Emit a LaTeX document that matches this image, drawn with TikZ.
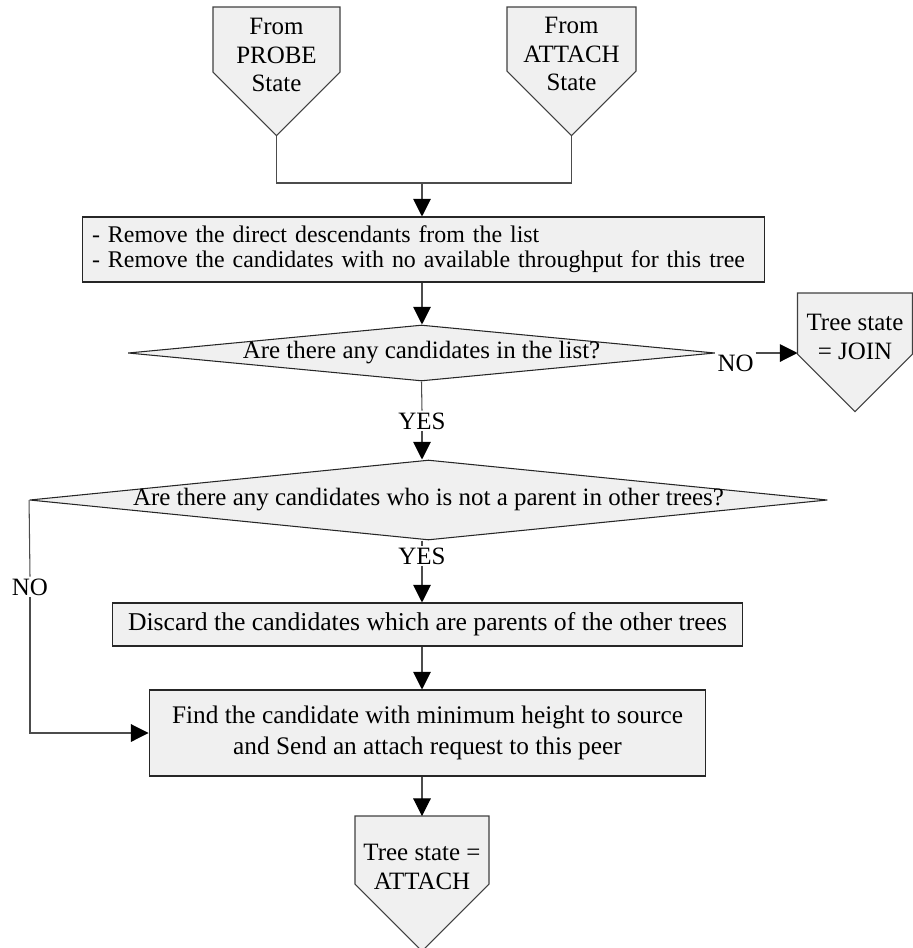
\documentclass[tikz,border=0pt]{standalone}
\usepackage{fontspec}
\setmainfont{Liberation Serif}
\usepackage{tikz}
\usetikzlibrary{shapes.geometric,arrows.meta,positioning,calc}
\definecolor{boxgray}{RGB}{240,240,240}

% off-page connector: name, centre x, top, half width, side height, text
\newcommand{\offpage}[6]{%
  \filldraw[pagebox] (#2-#4,#3) -- (#2+#4,#3) -- (#2+#4,#3+#5)
    -- (#2,#3+#5+#4) -- (#2-#4,#3+#5) -- cycle;
  \node[pagetext] (#1) at (#2,#3+#5-17) {#6};
  \coordinate (#1-top) at (#2,#3);
  \coordinate (#1-tip) at (#2,#3+#5+#4);
  \coordinate (#1-sw) at (#2-#4,#3+#5);
}

\begin{document}
\begin{tikzpicture}[x=0.02cm, y=-0.02cm,
    every node/.style={font=\fontsize{14.2}{14.2}\selectfont},
    box/.style={draw=black!85, fill=boxgray, line width=0.6pt, inner sep=0pt},
    decision/.style={diamond, draw=black!85, fill=boxgray, line width=0.6pt,
                     inner xsep=-20pt, inner ysep=-4pt},
    pagebox/.style={draw=black!75, fill=boxgray, line width=0.6pt},
    pagetext/.style={align=center, font=\fontsize{14.2}{16.4}\selectfont},
    link/.style={draw=black!70, line width=0.6pt},
    flow/.style={link, -{Triangle[width=10pt,length=10pt,black]}},
    answer/.style={inner sep=1pt}]
    \useasboundingbox (0,0) rectangle (913,948);

    % entry states
    \offpage{probe}{276.5}{7}{63.5}{65}{From\\PROBE\\State}
    \offpage{attach0}{571.5}{7}{64.5}{64}{From\\ATTACH\\State}
    \coordinate (merge) at (422,183);

    % list cleanup
    \node[box, minimum width=13.66cm, minimum height=1.3cm, align=left, text width=13.26cm,
          font=\fontsize{13.6}{14.2}\selectfont] (rmv) at (423.5,249.5)
        {- Remove the direct descendants from the list\\- Remove the candidates with no available throughput for this tree};

    % first question
    \node[decision, minimum width=11.74cm, minimum height=1.12cm, aspect=10.5] (dec1) at (421.5,353)
        {Are there any candidates in the list?};
    \node[answer, anchor=north west] (no1) at (dec1.east) {NO};
    \offpage{join}{855}{293}{57.5}{61}{Tree state\\= JOIN}
    \node[answer] (yes1) at (422,421) {YES};

    % second question
    \node[decision, minimum width=15.96cm, minimum height=1.6cm, aspect=10] (dec2) at (428.5,500)
        {Are there any candidates who is not a parent in other trees?};
    \node[answer] (yes2) at (422,556) {YES};
    \node[answer] (no2) at (30,587) {NO};

    % choose the parent
    \node[box, minimum width=12.62cm, minimum height=0.86cm, font=\fontsize{14.6}{14.6}\selectfont] (discard) at (427.5,624.5)
        {Discard the candidates which are parents of the other trees};
    \node[box, minimum width=11.14cm, minimum height=1.72cm, align=center,
          font=\fontsize{14.4}{18.1}\selectfont] (find) at (427.5,733)
        {Find the candidate with minimum height to source\\and Send an attach request to this peer};
    \offpage{attach1}{422}{816}{67}{68}{Tree state =\\ATTACH}

    % connectors
    \draw[link] (probe-tip) |- (merge) -| (attach0-tip);
    \draw[flow] (merge) -- (merge |- rmv.north);
    \draw[flow] (merge |- rmv.south) -- (merge |- dec1.north);
    \draw[flow] (dec1.east -| no1.east) -- (dec1.east -| join-sw);
    \draw[link] (dec1.south) -- (yes1.north);
    \draw[flow] (yes1.south) -- (yes1.south |- dec2.north);
    \draw[link] (dec2.south -| yes2) -- (yes2.north);
    \draw[flow] (yes2.south) -- (yes2.south |- discard.north);
    \draw[link] (dec2.west) -- (no2.north);
    \draw[flow] (no2.south) |- (find.west);
    \draw[flow] (discard.south -| yes2) -- (find.north -| yes2);
    \draw[flow] (find.south -| yes2) -- (attach1-top);
\end{tikzpicture}
\end{document}
